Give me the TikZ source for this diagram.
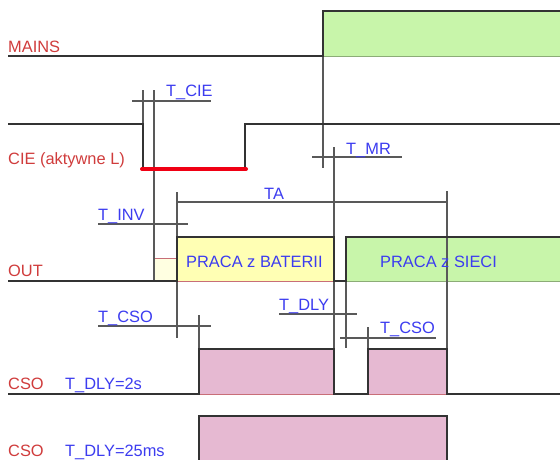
\documentclass[tikz,border=0pt]{standalone}
\usepackage{fontspec}
\setmainfont{Liberation Sans}
\begin{document}
\begin{tikzpicture}[x=1pt,y=-1pt,
  sig/.style={draw=black!80,line width=1.8pt,line join=miter},
  mk/.style={draw=black!65,line width=1.3pt},
  lbl/.style={inner sep=0pt,anchor=base west,font=\fontsize{16.4}{18}\selectfont},
  redlbl/.style={lbl,text=redtxt},
  bluelbl/.style={lbl,text=bluetxt}]
\definecolor{redtxt}{RGB}{208,60,60}
\definecolor{bluetxt}{RGB}{60,60,240}
\definecolor{gfill}{RGB}{200,245,170}
\definecolor{yfill}{RGB}{255,255,180}
\definecolor{pfill}{RGB}{230,185,210}
\definecolor{redline}{RGB}{240,0,20}
\definecolor{edgered}{RGB}{200,110,120}
\useasboundingbox (0,0) rectangle (560,459);
\fill[white] (0,0) rectangle (560,459);

% fills
\fill[gfill] (323,11) rectangle (560,56);
\fill[yfill!40] (154,258) rectangle (177,281);
\fill[yfill] (177,237) rectangle (334,281);
\fill[gfill] (346,237) rectangle (560,281);
\fill[pfill] (199,349) rectangle (334,394);
\fill[pfill] (368,349) rectangle (447,394);
\fill[pfill] (199,416) rectangle (447,470);

% thin coloured bottom edges
\draw[edgered,line width=1pt] (154,281) -- (154,258) -- (177,258);
\draw[edgered,line width=1pt] (177,281) -- (334,281);
\draw[gfill!70!black,line width=0.8pt] (346,281) -- (560,281);
\draw[gfill!70!black,line width=0.8pt] (323,56) -- (560,56);
\draw[edgered,line width=1pt] (199,394) -- (334,394) (368,394) -- (447,394);

% marker lines
\draw[mk] (143,90) -- (143,124);
\draw[mk] (154,90) -- (154,281);
\draw[mk] (132,101) -- (211,101);
\draw[mk] (323,56) -- (323,168);
\draw[mk] (312,157) -- (402,157);
\draw[mk] (334,147) -- (334,237);
\draw[mk] (177,192) -- (177,237);
\draw[mk] (177,281) -- (177,338);
\draw[mk] (177,202) -- (447,202);
\draw[mk] (447,191) -- (447,349);
\draw[mk] (98,224) -- (188,224);
\draw[mk] (98,326) -- (211,326);
\draw[mk] (199,315) -- (199,349);
\draw[mk] (334,281) -- (334,349);
\draw[mk] (279,314) -- (357,314);
\draw[mk] (346,281) -- (346,348);
\draw[mk] (340,338) -- (436,338);
\draw[mk] (368,327) -- (368,349);

% signals
\draw[sig] (8,56) -- (323,56) -- (323,11) -- (561,11);
\draw[sig] (8,124) -- (143,124) -- (143,168);
\draw[sig] (245,168) -- (245,124) -- (561,124);
\draw[redline,line width=4pt,line cap=round] (142,169) -- (246,169);
\draw[sig] (8,281) -- (177,281) -- (177,237) -- (334,237) -- (334,281) -- (346,281) -- (346,237) -- (561,237);
\draw[sig] (8,394) -- (199,394) -- (199,349) -- (334,349) -- (334,394) -- (368,394) -- (368,349) -- (447,349) -- (447,394) -- (561,394);
\draw[sig] (199,470) -- (199,416) -- (447,416) -- (447,470);

% labels
\node[redlbl] (mains) at (8,52) {MAINS};
\node[redlbl] (cie) at (8,164) {CIE (aktywne L)};
\node[redlbl] (out) at (8,276) {OUT};
\node[redlbl] (cso1) at (8,389) {CSO};
\node[redlbl] (cso2) at (8,456) {CSO};
\node[bluelbl] (dly2s) at (65,389) {T\_DLY=2s};
\node[bluelbl] (dly25) at (65,456) {T\_DLY=25ms};
\node[bluelbl] (tcie) at (166,96) {T\_CIE};
\node[bluelbl] (tmr) at (346,154) {T\_MR};
\node[bluelbl] (ta) at (264,199) {TA};
\node[bluelbl] (tinv) at (98,220) {T\_INV};
\node[bluelbl] (bat) at (186,267) {PRACA z BATERII};
\node[bluelbl] (siec) at (380,267) {PRACA z SIECI};
\node[bluelbl] (tcso1) at (98,322) {T\_CSO};
\node[bluelbl] (tdly) at (279,310) {T\_DLY};
\node[bluelbl] (tcso2) at (380,333) {T\_CSO};
\end{tikzpicture}
\end{document}
